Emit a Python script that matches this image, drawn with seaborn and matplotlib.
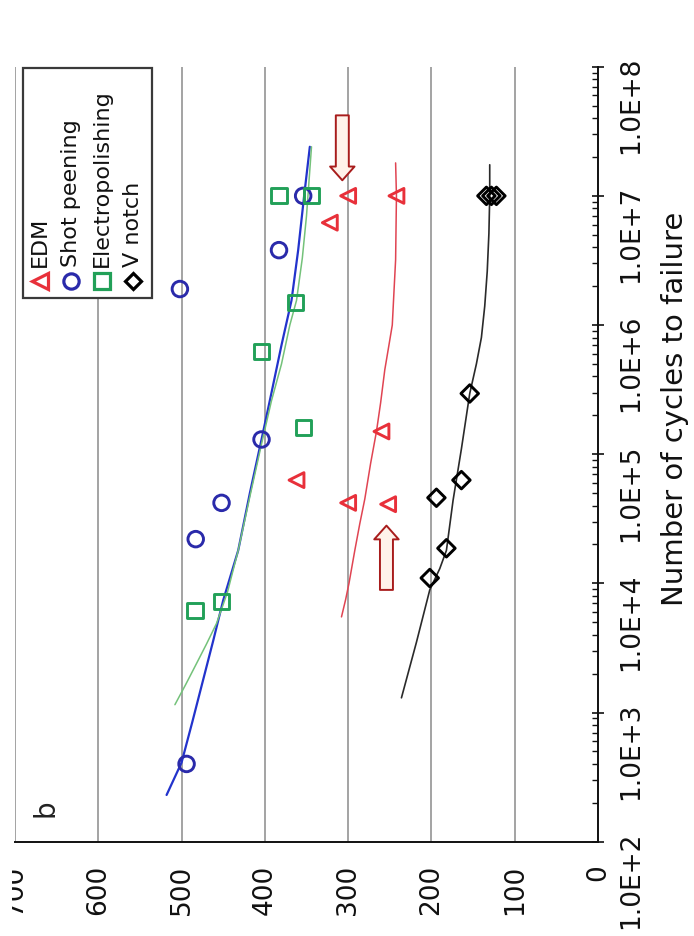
import numpy as np
import pandas as pd
import matplotlib
matplotlib.use("Agg")
import matplotlib.pyplot as plt
from matplotlib.ticker import FixedLocator, FixedFormatter, MultipleLocator, LogLocator, NullFormatter
from matplotlib.patches import Rectangle
from matplotlib.transforms import Bbox
import seaborn as sns

# ---- S-N test results: stress amplitude (MPa) and cycles to failure ----
edm_stress = [300, 322, 242, 362, 300, 260, 252]
edm_cycles = [1.0e7, 6.2e6, 1.0e7, 6.3e4, 4.2e4, 1.5e5, 4.1e4]

shot_stress = [502, 383, 354, 404, 452, 483, 494]
shot_cycles = [1.9e6, 3.8e6, 1.0e7, 1.3e5, 4.2e4, 2.2e4, 4.0e2]

electro_stress = [383, 344, 363, 404, 354, 452, 484]
electro_cycles = [1.0e7, 1.0e7, 1.5e6, 6.2e5, 1.6e5, 7.2e3, 6.2e3]

vnotch_stress = [134, 128, 122, 154, 164, 194, 182, 202]
vnotch_cycles = [1.0e7, 1.0e7, 1.0e7, 2.95e5, 6.3e4, 4.6e4, 1.87e4, 1.1e4]

# ---- fitted S-N curves ----
edm_fit_stress = [308, 303, 299, 292, 286, 280, 273, 266, 261, 256, 251, 247, 245, 243, 242, 243]
edm_fit_cycles = [5.5e3, 7.5e3, 1.0e4, 1.8e4, 2.9e4, 4.5e4, 8.5e4, 1.5e5, 2.5e5, 4.5e5,
                  7.0e5, 1.0e6, 1.8e6, 3.2e6, 1.0e7, 1.8e7]

shot_fit_stress = [518, 500, 487, 475, 462, 450, 432, 418, 404, 392, 380, 368, 360, 353, 346]
shot_fit_cycles = [2.3e2, 4.1e2, 8.5e2, 1.7e3, 3.6e3, 7.4e3, 1.8e4, 5.0e4, 1.3e5, 3.0e5,
                   7.0e5, 1.55e6, 3.8e6, 9.8e6, 2.4e7]

electro_fit_stress = [508, 495, 482, 470, 458, 445, 432, 418, 404, 392, 380, 370, 362, 355, 350, 344]
electro_fit_cycles = [1.15e3, 1.65e3, 2.4e3, 3.4e3, 4.9e3, 8.5e3, 1.8e4, 4.7e4, 1.2e5, 2.6e5,
                      5.0e5, 1.0e6, 1.55e6, 3.3e6, 7.0e6, 2.4e7]

vnotch_fit_stress = [236, 218, 202, 190, 182, 174, 164, 154, 146, 140, 136, 133, 131, 130, 130]
vnotch_fit_cycles = [1.3e3, 3.5e3, 8.9e3, 1.3e4, 1.8e4, 4.4e4, 1.1e5, 2.95e5, 5.0e5, 8.0e5,
                     1.4e6, 2.6e6, 5.1e6, 1.0e7, 1.74e7]

# ---- run-out arrows (stress, start cycles, end cycles) ----
arrow_stress = [307, 254]
arrow_from = [4.2e7, 8.9e3]
arrow_to = [1.32e7, 2.8e4]

# ---- axis ticks ----
stress_ticks = [0, 100, 200, 300, 400, 500, 600, 700]
cycle_ticks = [1e2, 1e3, 1e4, 1e5, 1e6, 1e7, 1e8]
cycle_labels = ["1.0E+2", "1.0E+3", "1.0E+4", "1.0E+5", "1.0E+6", "1.0E+7", "1.0E+8"]

series_names = ["EDM", "Shot peening", "Electropolishing", "V notch"]
series_colors = ["#e8303a", "#2a2aaa", "#22a058", "#000000"]
fit_colors = ["#e04452", "#2233cc", "#74c27a", "#2a2a2a"]
fit_widths = [1.1, 1.6, 1.1, 1.2]
series_markers = ["<", "o", "s", "D"]
marker_sizes = [115, 125, 120, 80]

sns.set_style("white")
plt.rcParams["font.family"] = ["DejaVu Sans"]

W, H = 694, 936
fig = plt.figure(figsize=(W / 100, H / 100), dpi=100)
ax_left, ax_right, ax_top, ax_bottom = 15, 598, 66.7, 841.7
ax = fig.add_axes([ax_left / W, 1 - ax_bottom / H,
                   (ax_right - ax_left) / W, (ax_bottom - ax_top) / H])
ax.set_yscale("log")

points = [
    (edm_stress, edm_cycles),
    (shot_stress, shot_cycles),
    (electro_stress, electro_cycles),
    (vnotch_stress, vnotch_cycles),
]
fits = [
    (edm_fit_stress, edm_fit_cycles),
    (shot_fit_stress, shot_fit_cycles),
    (electro_fit_stress, electro_fit_cycles),
    (vnotch_fit_stress, vnotch_fit_cycles),
]

for (fs, fc), col, lw in zip(fits, fit_colors, fit_widths):
    fit_df = pd.DataFrame({"stress": fs, "cycles": fc})
    sns.lineplot(data=fit_df, x="stress", y="cycles", sort=False, estimator=None,
                 color=col, linewidth=lw, ax=ax, zorder=3)

for (s, n), col, mk, sz in zip(points, series_colors, series_markers, marker_sizes):
    df = pd.DataFrame({"stress": s, "cycles": n})
    sns.scatterplot(data=df, x="stress", y="cycles", marker=mk, s=sz,
                    color=col, facecolor="none", edgecolor=col, linewidth=2.1,
                    ax=ax, zorder=4, legend=False)

# run-out arrows
for s, a0, a1 in zip(arrow_stress, arrow_from, arrow_to):
    ax.annotate("", xy=(s, a1), xytext=(s, a0),
                arrowprops=dict(arrowstyle="simple,head_length=0.9,head_width=1.6,tail_width=0.85",
                                fc="#fff2ea", ec="#a81c1c", lw=1.4,
                                mutation_scale=11, shrinkA=0, shrinkB=0),
                zorder=5)

ax.set_xlim(700, 0)
ax.set_ylim(1e2, 1e8)

ax.xaxis.set_major_locator(FixedLocator(stress_ticks))
ax.xaxis.set_minor_locator(MultipleLocator(20))
ax.yaxis.set_major_locator(FixedLocator(cycle_ticks))
ax.yaxis.set_major_formatter(FixedFormatter(cycle_labels))
ax.yaxis.set_minor_locator(LogLocator(base=10, subs=np.arange(2, 10), numticks=30))
ax.yaxis.set_minor_formatter(NullFormatter())
ax.yaxis.tick_right()
ax.yaxis.set_label_position("right")

ax.grid(axis="x", which="major", color="#9c9c9c", linewidth=1.3)
ax.grid(axis="y", visible=False)
ax.set_axisbelow(True)

for side in ["top", "left"]:
    ax.spines[side].set_visible(False)
for side in ["right", "bottom"]:
    ax.spines[side].set_color("#111111")
    ax.spines[side].set_linewidth(1.4)

ax.tick_params(axis="both", which="major", direction="inout", length=9, width=1.2,
               labelsize=19, labelrotation=90, colors="#111111")
ax.tick_params(axis="x", which="major", pad=12)
ax.tick_params(axis="y", which="major", pad=10)
ax.tick_params(axis="both", which="minor", direction="in", length=4.5, width=1.0,
               colors="#111111")

# the outermost stress label sits against the figure edge and is cut there
edge_box = Bbox.from_extents(12, 0, W, H)
x_ticks = ax.xaxis.get_major_ticks()
edge_label = x_ticks[stress_ticks.index(700)].label1
edge_label.set_clip_on(True)
edge_label.set_clip_box(edge_box)

ax.set_xlabel("")
ax.set_ylabel("Number of cycles to failure", fontsize=21, rotation=90, color="#111111")
ax.yaxis.set_label_coords((661 - ax_left) / (ax_right - ax_left),
                          (ax_bottom - 409) / (ax_bottom - ax_top))

def to_axes(px, py):
    return ((px - ax_left) / (ax_right - ax_left),
            (ax_bottom - py) / (ax_bottom - ax_top))

# panel letter
bx, by = to_axes(46, 808)
ax.text(bx, by, "b", transform=ax.transAxes, rotation=90, fontsize=20,
        ha="center", va="center", color="#222222")

# legend box with vertical entries
lx0, ly0 = to_axes(22.7, 297.7)
lx1, ly1 = to_axes(151.7, 68.3)
ax.add_patch(Rectangle((lx0, ly0), lx1 - lx0, ly1 - ly0, transform=ax.transAxes,
                       facecolor="white", edgecolor="#3a3a3a", linewidth=1.6,
                       zorder=6, clip_on=False))
entry_x = [40, 71, 102, 133]
for ex, name, col, mk in zip(entry_x, series_names, series_colors, series_markers):
    mx, my = to_axes(ex, 281)
    ax.plot([mx], [my], marker=mk, markersize=11 if mk != "D" else 8.5,
            markerfacecolor="none", markeredgecolor=col, markeredgewidth=2.3,
            transform=ax.transAxes, zorder=7, clip_on=False, linestyle="none")
    tx, ty = to_axes(ex, 267)
    ax.text(tx, ty, name, transform=ax.transAxes, rotation=90, fontsize=16,
            ha="center", va="bottom", color="#111111", zorder=7)

fig.savefig("out.png", dpi=100)
